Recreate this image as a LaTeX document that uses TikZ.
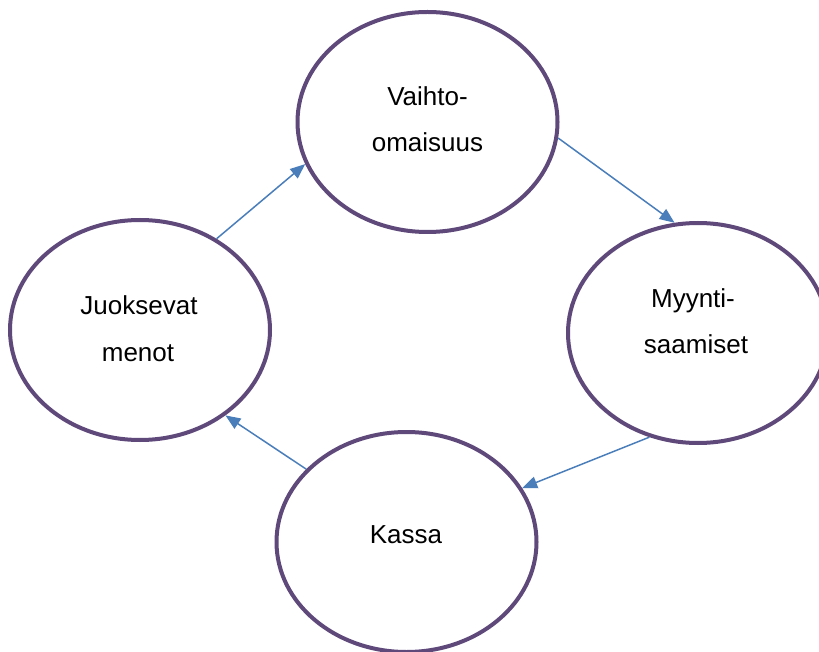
\documentclass[tikz,border=0pt]{standalone}
\usepackage{fontspec}
\setmainfont{Liberation Sans}
\usetikzlibrary{arrows.meta,shapes.geometric}
\definecolor{ringcol}{HTML}{5F497A}
\definecolor{arrcol}{HTML}{4A7EBB}
\begin{document}
\begin{tikzpicture}[x=1pt,y=-1pt,
  ring/.style={draw=ringcol, line width=4pt, ellipse, minimum width=260pt, minimum height=220pt, inner sep=0pt, fill=white},
  lbl/.style={anchor=base, font=\fontsize{26}{30}\selectfont, inner sep=0pt, text=black},
  flow/.style={draw=arrcol, line width=1.5pt, -{Triangle[length=15pt,width=12pt]}}]
\path[use as bounding box, clip] (0,0) rectangle (819,652);
\fill[white] (0,0) rectangle (819,652);
\node[ring] (v) at (427.5,122) {};
\node[ring] (m) at (698,333) {};
\node[ring] (j) at (140,330) {};
\node[ring] (k) at (406.5,542) {};
\draw[flow] (j.50) -- (v.199.6);
\draw[flow] (v.353.5) -- (m.102.6);
\draw[flow] (m.245.3) -- (k.25.6);
\draw[flow] (k.144.2) -- (j.315);
\node[lbl] (v1) at (427.5,106) {Vaihto-};
\node[lbl] (v2) at (427.5,152) {omaisuus};
\node[lbl] (m1) at (693,307) {Myynti-};
\node[lbl] (m2) at (696,353) {saamiset};
\node[lbl] (j1) at (139,315) {Juoksevat};
\node[lbl] (j2) at (138,361) {menot};
\node[lbl] (k1) at (406,543) {Kassa};
\end{tikzpicture}
\end{document}
